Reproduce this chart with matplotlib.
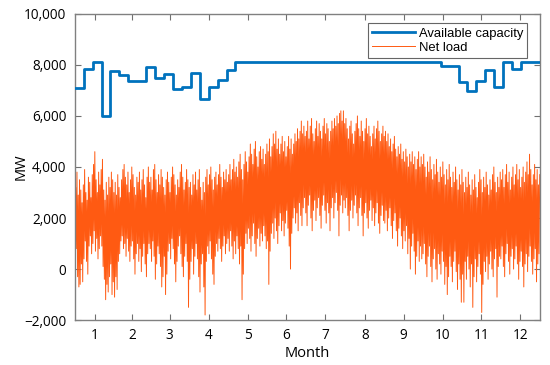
import numpy as np
import matplotlib
matplotlib.use('Agg')
import matplotlib.pyplot as plt
from matplotlib.ticker import FuncFormatter

# weekly available capacity (MW), one value per week starting on day 0
capacity_mw = [7100, 7850, 8100, 6000, 7750, 7600, 7350, 7350, 7900, 7500,
               7650, 7050, 7150, 7700, 6650, 7150, 7400, 7800,
               8100, 8100, 8100, 8100, 8100, 8100, 8100, 8100, 8100, 8100,
               8100, 8100, 8100, 8100, 8100, 8100, 8100, 8100, 8100, 8100,
               8100, 8100, 8100,
               7970, 7970, 7330, 6990, 7370, 7790, 7150, 8100, 7850, 8100,
               8100, 8100]

# daily net load peaks and troughs (MW)
peak_mw = [
    # Jan
    3200, 3800, 2900, 3500, 3100, 2600, 3300, 3900, 3000, 2700, 3600, 3400, 2800, 3700, 4100, 4600,
    3500, 3000, 3800, 3300, 3900, 4300, 3100, 2700, 3400, 2900, 3600, 3200, 3800, 3500, 3000,
    # Feb
    3400, 2900, 3700, 3200, 2800, 3500, 3900, 4100, 3600, 3300, 3800, 3000, 3500, 4000,
    3700, 3200, 2900, 3600, 3400, 3800, 3100, 3500, 3900, 3300, 2800, 3600, 4000, 3400,
    # Mar
    3600, 3100, 3900, 4100, 3500, 3000, 3700, 3300, 3900, 3600, 3200, 2900, 3500, 3800, 3400, 3000,
    3600, 4000, 3700, 3300, 2900, 3500, 3200, 3800, 4100, 3600, 3100, 3400, 3900, 3500, 3200,
    # Apr
    3400, 2900, 3700, 3300, 3800, 3100, 3500, 3900, 3200, 2700, 3400, 3000, 3600, 3900, 3300,
    3700, 4000, 3500, 3100, 3600, 3800, 3300, 3700, 4100, 3600, 3200, 3800, 3500, 3900, 3400,
    # May
    3700, 4100, 3500, 3900, 4300, 3800, 4000, 3600, 4200, 4500, 3900, 3500, 4100, 4600, 4200, 3800,
    4400, 4900, 4500, 4100, 4700, 5000, 4400, 4000, 4600, 4800, 4300, 4700, 4100, 4500, 4900,
    # Jun
    4600, 5100, 4400, 4800, 5300, 4900, 5400, 4700, 5100, 4500, 4900, 5200, 4600, 5000, 4400,
    4800, 5200, 4700, 5100, 4500, 4900, 5300, 5000, 5500, 5100, 5400, 5800, 5300, 5600, 5200,
    # Jul
    5400, 5800, 5100, 5600, 5900, 5300, 5000, 5500, 5800, 5200, 5700, 5400, 5100, 5600, 5900, 5300,
    5700, 5500, 5000, 5400, 5800, 5500, 5900, 5600, 6000, 5700, 6100, 6200, 5800, 6200, 5700,
    # Aug
    5900, 5500, 5100, 5600, 5800, 5300, 4900, 5400, 5700, 6000, 5500, 5200, 5800, 5400, 5000, 5500,
    5900, 5300, 5600, 5200, 4800, 5300, 5600, 5100, 5500, 5800, 5400, 5000, 5300, 5600, 5200,
    # Sep
    5400, 5000, 5300, 4800, 5100, 4600, 4900, 5200, 4700, 4400, 4800, 4500, 4900, 4300, 4600,
    4200, 4700, 4400, 4000, 4500, 4200, 4600, 4100, 4400, 3900, 4300, 4600, 4000, 4400, 4100,
    # Oct
    4500, 4000, 3600, 4200, 3800, 4400, 3900, 3500, 4100, 3700, 4300, 3800, 3400, 4000, 3600, 4200,
    3700, 3300, 3900, 3500, 4100, 3600, 3200, 3800, 3400, 4000, 3500, 3100, 3700, 3300, 3900,
    # Nov
    3400, 3000, 3600, 3200, 3800, 3300, 2900, 3500, 3100, 3700, 3200, 2800, 3400, 3900, 3500,
    3000, 3600, 3200, 3800, 3300, 2900, 3500, 3100, 3700, 4000, 3400, 3000, 3600, 3200, 3800,
    # Dec
    3500, 3900, 3200, 3700, 4100, 3400, 3800, 3100, 3600, 4000, 3300, 3700, 4100, 3500, 3900, 3200,
    3600, 4000, 3400, 3800, 4200, 3700, 4500, 3900, 3300, 3700, 4100, 3500, 3900, 3300, 3700,
]

trough_mw = [
    # Jan
    1500, 800, -300, -700, -600, 200, -500, 400, 1100, 300, -200, 900, 1300, 600, 1000, 1500,
    700, 1200, 400, 800, 1300, 900, 100, -400, -1200, -600, -900, -300, 200, -1000, -500,
    # Feb
    -1100, -300, -800, 300, 600, 1100, 1300, 800, 1000, 500, 1200, 700, 300, 900,
    1100, 400, -200, 600, 1000, 300, 800, -100, 500, 1000, 200, -300, 600, 1000,
    # Mar
    800, 300, 1100, 500, -400, 200, 900, 600, 100, -700, -300, 500, -1000, -200, 700, 1000,
    400, 1200, 800, 200, -500, 300, 900, 1300, 600, 100, -300, 500, 1000, 300, -1500,
    # Apr
    -400, 300, 800, -200, 500, 1000, 400, -300, -900, 200, 600, -700, -1800, 300, 900,
    600, 1100, 400, -200, -600, 500, 1000, 700, 1200, 800, 300, 900, 1300, 600, 1000,
    # May
    1200, 700, 1500, 900, 400, 1100, 600, 1300, 800, 200, 900, -1200, -200, 800, 1400, 1000,
    1600, 1200, 700, 1300, 1800, 1000, 500, 1200, 1600, 900, 1400, 1100, 1700, 1300, 800,
    # Jun
    1100, -600, 700, 1400, 1800, 1200, 2000, 1500, 1000, 1700, 2200, 1500, 1900, 1300, 1800,
    2300, 1600, 900, 0, 1400, 2000, 2400, 1800, 2200, 1500, 2600, 2100, 1700, 2400, 2800,
    # Jul
    2200, 1700, 2500, 2900, 2000, 1500, 2300, 2700, 1900, 2400, 2800, 2100, 1600, 2500, 2900, 2300,
    1800, 2600, 2200, 1500, 2400, 2800, 2000, 2600, 3000, 2300, 1300, 2500, 2900, 2200, 2700,
    # Aug
    2400, 2800, 2100, 1500, 2300, 2700, 2000, 2500, 2900, 2200, 1700, 2400, 2800, 2100, 1300, 2200,
    2600, 2000, 1600, 2300, 2700, 1900, 2400, 1700, 2200, 2600, 1800, 1400, 2100, 2500, 1900,
    # Sep
    1800, 2300, 1500, 2000, 2400, 1700, 1200, 1900, 2200, 1500, 900, 1600, 2000, 1300, 800,
    1500, 1100, 1700, 600, 1200, 0, 900, 1400, 700, -200, 500, 1100, 300, 900, 400,
    # Oct
    600, 1000, 200, -300, 500, 900, 100, -500, 400, 800, 0, -400, 600, 200, -200, 700,
    300, -600, 100, -1000, -300, 500, 100, -500, 300, 700, -100, -800, 200, -400, -1300,
    # Nov
    -200, -1300, 300, -400, 500, 0, -700, 200, -1500, -300, 400, -500, 100, 600, -200,
    -1700, -600, 300, -100, 500, -400, 200, 700, 0, -300, 400, 800, -1100, 100, 500,
    # Dec
    400, 900, 100, -300, 600, 1000, 300, -200, 500, 800, 0, 400, 900, 200, -400, 300,
    700, 100, -700, 200, 600, -100, 500, 900, 300, -200, 400, 800, -500, 200, 600,
]

month_labels = [str(m) for m in range(1, 13)]
month_days = [31, 28, 31, 30, 31, 30, 31, 31, 30, 31, 30, 31]

plt.rcParams['font.family'] = ['Open Sans', 'DejaVu Sans']

fig = plt.figure(figsize=(5.5, 3.65), dpi=100)
ax = fig.add_axes([0.136, 0.123, 0.846, 0.839])

# net load: trough then peak for every day
n = min(len(peak_mw), len(trough_mw))
days = np.arange(n)
x_load = np.column_stack([days + 0.2, days + 0.7]).ravel()
y_load = np.column_stack([trough_mw[:n], peak_mw[:n]]).ravel()

# capacity as weekly steps
cap_x = list(np.arange(len(capacity_mw)) * 7) + [365]
cap_y = capacity_mw + [capacity_mw[-1]]

ax.plot(cap_x, cap_y, drawstyle='steps-post', color='#0072BD', linewidth=2.0,
        label='Available capacity', zorder=3)
ax.plot(x_load, y_load, color='#FF5A12', linewidth=0.7, label='Net load', zorder=2)

# month ticks at mid-month
starts = np.concatenate([[0], np.cumsum(month_days)[:-1]])
mid = starts + np.array(month_days) / 2.0
ax.set_xticks(mid)
ax.set_xticklabels(month_labels)
ax.set_xlim(0, 365)
ax.set_ylim(-2000, 10000)
ax.set_yticks(np.arange(-2000, 10001, 2000))
ax.yaxis.set_major_formatter(FuncFormatter(
    lambda v, p: f'{int(v):,}'.replace('-', '\u2212')))

ax.tick_params(direction='in', top=True, right=True, length=4, width=0.8,
               color='#707070', labelsize=9.8, pad=6)
for s in ax.spines.values():
    s.set_color('#808080')
    s.set_linewidth(1.0)

ax.set_xlabel('Month', fontsize=10.5, labelpad=2)
ax.set_ylabel('MW', fontsize=10.5, labelpad=-3)

leg = ax.legend(loc='upper right', frameon=True, fancybox=False,
                edgecolor='#404040', borderpad=0.3, handlelength=3.3,
                handletextpad=0.3, labelspacing=0.15,
                prop={'family': 'Liberation Sans', 'size': 9.4},
                bbox_to_anchor=(0.986, 0.99))
leg.get_frame().set_linewidth(0.8)

fig.savefig('out.png', dpi=100)
